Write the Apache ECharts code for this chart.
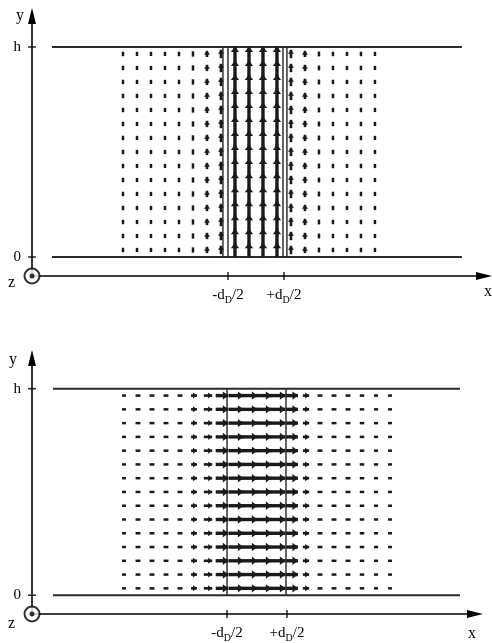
<!DOCTYPE html>
<html>
<head>
<meta charset="utf-8">
<script src="https://cdn.jsdelivr.net/npm/echarts@6/dist/echarts.min.js"></script>
<style>
html,body{margin:0;padding:0;background:#fff;}
#c{width:492px;height:643px;}
</style>
</head>
<body>
<div id="c"></div>
<script>
// ---------- data ----------
// Panel A (top): field along y. Column positions in grid units, arrow magnitudes (grid units)
const topCols = [-9.5,-8.5,-7.5,-6.5,-5.5,-4.5,-3.5,-2.5,-1.5,-0.5,0.5,1.5,2.5,3.5,4.5,5.5,6.5,7.5,8.5];
const topMag  = [0.32,0.3,0.3,0.3,0.32,0.38,0.45,0.6,1.05,1.05,1.05,1.05,0.6,0.45,0.35,0.32,0.3,0.32,0.3];
const topRows = [0.5,1.5,2.5,3.5,4.5,5.5,6.5,7.5,8.5,9.5,10.5,11.5,12.5,13.5,14.5];
const topHalfD = [-2, 2];               // -dD/2, +dD/2
const topBounds = [-2.36, -2, 1.93, 2.21]; // dielectric boundary lines
const topPlateX = [-14.57, 14.71];

// Panel B (bottom): field along x
const botCols = [-9.5,-8.5,-7.5,-6.5,-5.5,-4.5,-3.5,-2.5,-1.5,-0.5,0.5,1.5,2.5,3.5,4.5,5.5,6.5,7.5,8.5,9.5];
const botMag  = [0.28,0.35,0.35,0.35,0.35,0.42,0.6,0.9,1.05,1.05,1.05,1.05,0.85,0.45,0.35,0.35,0.35,0.32,0.3,0.28];
const botRows = [0.5,1.5,2.5,3.5,4.5,5.5,6.5,7.5,8.5,9.5,10.5,11.5,12.5,13.5,14.5];
const botHalfD = [-2.14, 2.14];
const botBounds = [-2.14, 2.07];
const botPlateX = [-14.57, 14.5];

const H = 15;            // plate spacing h
const yTicks = [0, H];
const yTickNames = {0: '0', 15: 'h'};

// ---------- helpers ----------
const FONT = '"Liberation Serif","DejaVu Serif",serif';
const INK = '#1a1a1a';

function buildField(cols, mags, rows) {
  const out = [];
  cols.forEach((c, i) => rows.forEach(r => out.push([c, r, mags[i]])));
  return out;
}

function arrowItem(dir) {
  return function (params, api) {
    const u = api.value(0), v = api.value(1), m = api.value(2);
    let p0, p1;
    if (dir === 'y') { p0 = api.coord([u, v - m / 2]); p1 = api.coord([u, v + m / 2]); }
    else { p0 = api.coord([u - m / 2, v]); p1 = api.coord([u + m / 2, v]); }
    const big = m > 0.8, mid = m >= 0.4;
    const lw = big ? 3.4 : (mid ? 2.6 : 2.5);
    const children = [{
      type: 'line',
      shape: { x1: p0[0], y1: p0[1], x2: p1[0], y2: p1[1] },
      style: { stroke: INK, lineWidth: lw }
    }];
    if (mid) {
      const dx = p1[0] - p0[0], dy = p1[1] - p0[1];
      const L = Math.sqrt(dx * dx + dy * dy) || 1;
      const ux = dx / L, uy = dy / L, nx = -uy, ny = ux;
      const hw = big ? 4.2 : 3, hl = big ? 5.5 : 4;
      const bx = p1[0] - ux * hl, by = p1[1] - uy * hl;
      children.push({
        type: 'polygon',
        shape: { points: [[p1[0], p1[1]], [bx + nx * hw, by + ny * hw], [bx - nx * hw, by - ny * hw]] },
        style: { fill: INK }
      });
    }
    return { type: 'group', children };
  };
}

function boundarySeries(xs, gi) {
  return xs.map(x => ({
    type: 'line', xAxisIndex: gi, yAxisIndex: gi, silent: true, symbol: 'none',
    data: [[x, 0], [x, H]], lineStyle: { color: '#222', width: 1.4 }, z: 3
  }));
}

function plateSeries(px, gi) {
  return [0, H].map(y => ({
    type: 'line', xAxisIndex: gi, yAxisIndex: gi, silent: true, symbol: 'none',
    data: [[px[0], y], [px[1], y]], lineStyle: { color: '#2a2a2a', width: 2 }, z: 3
  }));
}

function xAxisDef(gi, min, max, halfD) {
  return {
    type: 'value', gridIndex: gi, min, max,
    splitLine: { show: false },
    axisLine: { onZero: false, lineStyle: { color: '#000', width: 1.6 }, symbol: ['none', 'triangle'], symbolSize: [8, 16] },
    axisTick: { show: false },
    axisLabel: {
      customValues: halfD, margin: 9, color: '#000', fontFamily: FONT, fontSize: 15, lineHeight: 20,
      formatter: v => (v < 0 ? '-d{s|D}/2' : '+d{s|D}/2'),
      rich: { s: { fontSize: 10, fontFamily: FONT, color: '#000', lineHeight: 10, verticalAlign: 'bottom' } }
    }
  };
}

function yAxisDef(gi, min, max) {
  return {
    type: 'value', gridIndex: gi, min, max,
    splitLine: { show: false },
    axisLine: { onZero: false, lineStyle: { color: '#000', width: 1.6 }, symbol: ['none', 'triangle'], symbolSize: [8, 16] },
    axisTick: { show: false },
    axisLabel: {
      customValues: yTicks, margin: 11, color: '#000', fontFamily: FONT, fontSize: 15,
      formatter: v => yTickNames[v]
    }
  };
}

function tickMarks(gi, xs, yMin, xMin) {
  const pts = xs.map(x => ({ value: [x, yMin], symbolSize: [1.6, 8] }))
    .concat(yTicks.map(y => ({ value: [xMin, y], symbolSize: [8, 1.6] })));
  return {
    type: 'scatter', xAxisIndex: gi, yAxisIndex: gi, symbol: 'rect', clip: false, silent: true,
    itemStyle: { color: '#000' }, data: pts, z: 6
  };
}

function originMark(gi, xMin, yMin) {
  return [
    { type: 'scatter', xAxisIndex: gi, yAxisIndex: gi, clip: false, silent: true, symbol: 'circle', symbolSize: 15,
      itemStyle: { color: '#fff', borderColor: '#000', borderWidth: 2 }, data: [[xMin, yMin]], z: 7 },
    { type: 'scatter', xAxisIndex: gi, yAxisIndex: gi, clip: false, silent: true, symbol: 'circle', symbolSize: 5,
      itemStyle: { color: '#000' }, data: [[xMin, yMin]], z: 8 }
  ];
}

// axis ranges
const A = { xMin: -16, xMax: 16.29, yMin: -1.357, yMax: 17.21 };
const B = { xMin: -16.07, xMax: 15.57, yMin: -1.364, yMax: 17.23 };

const chart = echarts.init(document.getElementById('c'), null, { renderer: 'canvas' });

const option = {
  animation: false,
  backgroundColor: '#fff',
  grid: [
    { left: 32, top: 16, width: 452, height: 260 },
    { left: 32, top: 358, width: 443, height: 259 }
  ],
  xAxis: [xAxisDef(0, A.xMin, A.xMax, topHalfD), xAxisDef(1, B.xMin, B.xMax, botHalfD)],
  yAxis: [yAxisDef(0, A.yMin, A.yMax), yAxisDef(1, B.yMin, B.yMax)],
  graphic: [
    { type: 'text', left: 16, top: 8, style: { text: 'y', font: '16px ' + FONT, fill: '#000' } },
    { type: 'text', left: 8, top: 275, style: { text: 'z', font: '16px ' + FONT, fill: '#000' } },
    { type: 'text', left: 484, top: 284, style: { text: 'x', font: '16px ' + FONT, fill: '#000' } },
    { type: 'text', left: 9, top: 352, style: { text: 'y', font: '16px ' + FONT, fill: '#000' } },
    { type: 'text', left: 8, top: 616, style: { text: 'z', font: '16px ' + FONT, fill: '#000' } },
    { type: 'text', left: 468, top: 626, style: { text: 'x', font: '16px ' + FONT, fill: '#000' } }
  ],
  series: [
    ...plateSeries(topPlateX, 0),
    ...boundarySeries(topBounds, 0),
    { type: 'custom', xAxisIndex: 0, yAxisIndex: 0, silent: true, renderItem: arrowItem('y'),
      data: buildField(topCols, topMag, topRows), encode: { x: 0, y: 1 }, z: 4 },
    tickMarks(0, topHalfD, A.yMin, A.xMin),
    ...originMark(0, A.xMin, A.yMin),

    ...plateSeries(botPlateX, 1),
    ...boundarySeries(botBounds, 1),
    { type: 'custom', xAxisIndex: 1, yAxisIndex: 1, silent: true, renderItem: arrowItem('x'),
      data: buildField(botCols, botMag, botRows), encode: { x: 0, y: 1 }, z: 4 },
    tickMarks(1, botHalfD, B.yMin, B.xMin),
    ...originMark(1, B.xMin, B.yMin)
  ]
};
chart.setOption(option);
</script>
</body>
</html>
